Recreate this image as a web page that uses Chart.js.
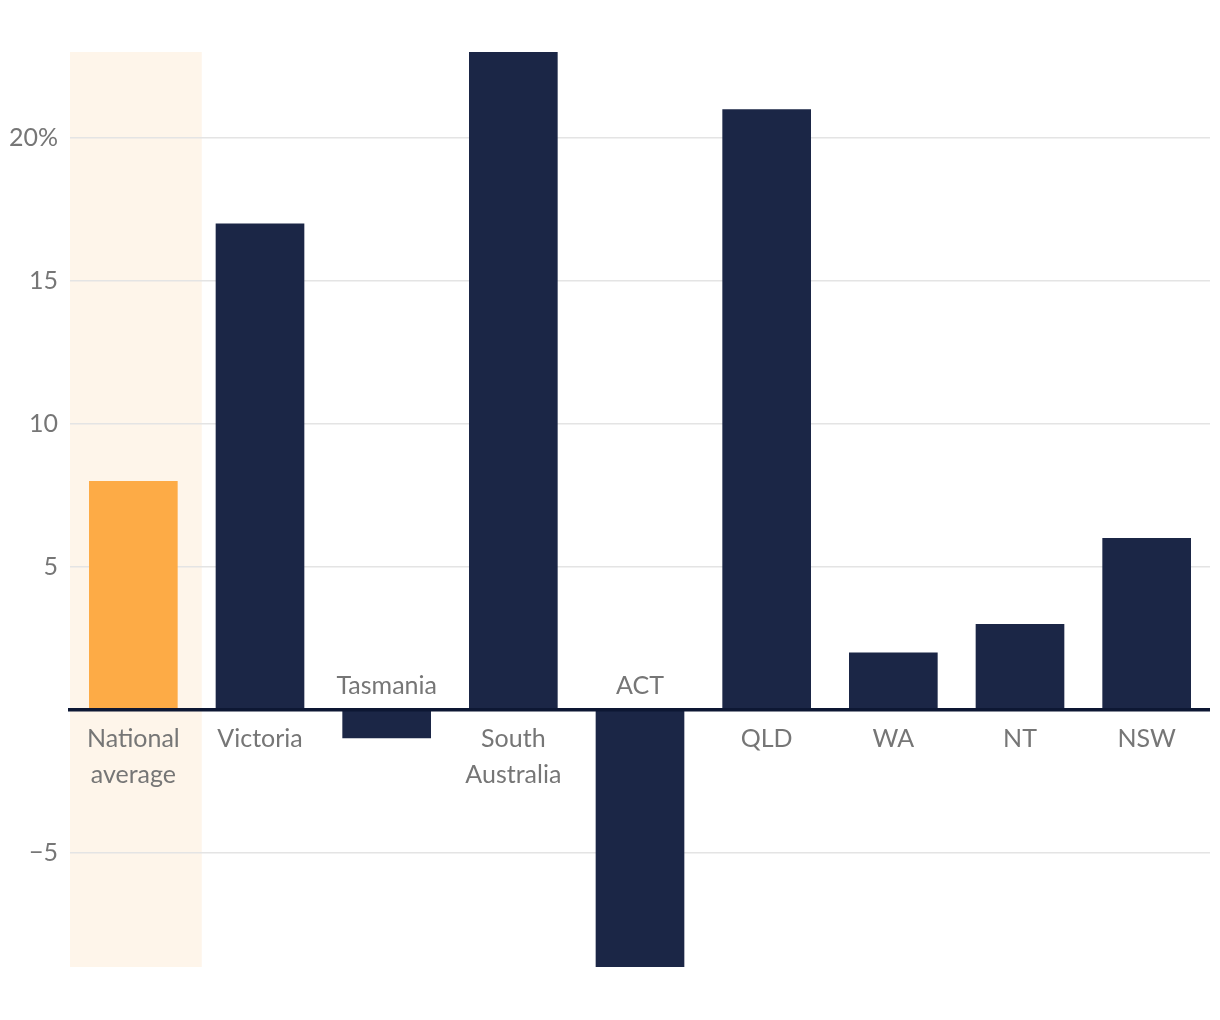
<!DOCTYPE html>
<html>
<head>
<meta charset="utf-8">
<script src="https://cdn.jsdelivr.net/npm/chart.js@4"></script>
<style>
  html, body { margin: 0; padding: 0; background: #ffffff; }
  #wrap { width: 1220px; height: 1020px; }
</style>
</head>
<body>
<div id="wrap"><canvas id="stateChart"></canvas></div>
<script>
// 数据
const categories = [
  ["National", "average"],
  ["Victoria"],
  ["Tasmania"],
  ["South", "Australia"],
  ["ACT"],
  ["QLD"],
  ["WA"],
  ["NT"],
  ["NSW"],
];
const values = [8, 17, -1, 23, -9, 21, 2, 3, 6];
const yTicks = [-5, 0, 5, 10, 15, 20];
const yMin = -9;
const yMax = 23;

const NAVY = "#1b2646";
const ORANGE = "#fdab46";
const LABEL_GREY = "#767676";
const FONT = "Lato, 'Noto Sans', sans-serif";

// 背景高亮 + 零线 + 类别标签
const decorPlugin = {
  id: "decor",
  beforeDraw(chart) {
    const { ctx, chartArea, scales } = chart;
    const x = scales.x;
    const cat = (chartArea.right - chartArea.left) / categories.length;
    const right = x.getPixelForValue(0) + cat * 0.54;
    ctx.save();
    ctx.fillStyle = "#fef5ea";
    ctx.fillRect(chartArea.left, chartArea.top, right - chartArea.left, chartArea.bottom - chartArea.top);
    ctx.restore();
  },
  afterDatasetsDraw(chart) {
    const { ctx, chartArea, scales } = chart;
    const zeroY = scales.y.getPixelForValue(0);
    ctx.save();
    ctx.strokeStyle = "#0d1733";
    ctx.lineWidth = 3.5;
    ctx.beginPath();
    ctx.moveTo(chartArea.left - 2, zeroY);
    ctx.lineTo(chartArea.right, zeroY);
    ctx.stroke();

    ctx.fillStyle = LABEL_GREY;
    ctx.font = "25px " + FONT;
    ctx.textAlign = "center";
    ctx.textBaseline = "middle";
    categories.forEach((lines, i) => {
      const cx = scales.x.getPixelForValue(i);
      if (values[i] >= 0) {
        lines.forEach((t, j) => ctx.fillText(t, cx, zeroY + 29 + j * 36));
      } else {
        ctx.fillText(lines[0], cx, zeroY - 24);
      }
    });
    ctx.restore();
  },
};

const ctx = document.getElementById("stateChart").getContext("2d");
const stateChart = new Chart(ctx, {
  type: "bar",
  data: {
    labels: categories.map((c) => c.join(" ")),
    datasets: [
      {
        data: values,
        backgroundColor: values.map((v, i) => (i === 0 ? ORANGE : NAVY)),
        borderWidth: 0,
        categoryPercentage: 1,
        barPercentage: 0.7,
      },
    ],
  },
  options: {
    responsive: true,
    maintainAspectRatio: false,
    animation: false,
    layout: { padding: { top: 52, right: 10, bottom: 53, left: 0 } },
    plugins: {
      legend: { display: false },
      tooltip: { enabled: false },
    },
    scales: {
      x: { display: false },
      y: {
        min: yMin,
        max: yMax,
        afterBuildTicks: (scale) => {
          scale.ticks = yTicks.map((v) => ({ value: v }));
        },
        afterFit: (scale) => {
          scale.width = 70;
        },
        border: { display: false },
        grid: {
          drawTicks: false,
          color: (c) => (c.tick && c.tick.value === 0 ? "rgba(0,0,0,0)" : "#e4e4e4"),
          lineWidth: 1.5,
        },
        ticks: {
          padding: 12,
          color: LABEL_GREY,
          font: { family: FONT, size: 25 },
          callback: (v) => {
            if (v === 0) return "";
            if (v === 20) return "20%";
            if (v < 0) return "\u2212" + Math.abs(v);
            return String(v);
          },
        },
      },
    },
  },
  plugins: [decorPlugin],
});
</script>
</body>
</html>
